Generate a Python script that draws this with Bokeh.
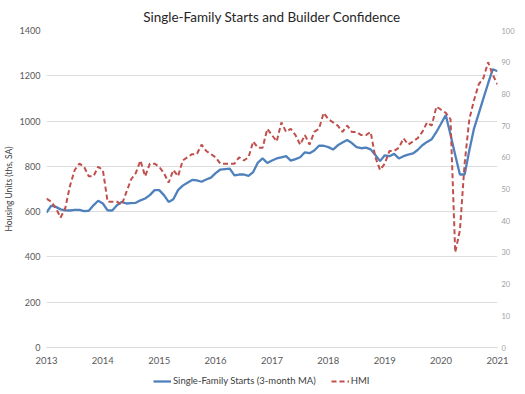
from bokeh.plotting import figure
from bokeh.models import Range1d, LinearAxis, FixedTicker, Legend, LegendItem, ColumnDataSource
from bokeh.layouts import column
from bokeh.embed import file_html
from bokeh.resources import INLINE

# Monthly, Jan 2013 .. Jan 2021
start_year = 2013
starts_3mma = [
    596, 626, 621, 610, 606, 605, 608, 608, 602, 604, 628, 648,   # 2013
    636, 606, 605, 628, 643, 636, 638, 639, 650, 658, 673, 695,   # 2014
    695, 673, 643, 655, 695, 715, 728, 740, 738, 732, 742, 750,   # 2015
    770, 786, 788, 790, 760, 764, 764, 758, 775, 817, 835, 815,   # 2016
    826, 835, 840, 845, 825, 832, 840, 862, 858, 870, 891, 891,   # 2017
    885, 874, 893, 905, 916, 903, 885, 880, 883, 875, 850, 823,   # 2018
    849, 845, 855, 835, 845, 852, 857, 872, 893, 908, 920, 952,   # 2019
    989, 1026, 940, 850, 764, 764, 870, 967, 1033, 1100, 1166, 1229,  # 2020
    1220,                                                         # 2021
]
hmi = [
    47, 46, 44, 41, 44, 51, 56, 58, 57, 54, 54, 57,   # 2013
    56, 46, 46, 46, 45, 49, 53, 55, 59, 54, 58, 58,   # 2014
    57, 55, 52, 56, 54, 59, 60, 61, 61, 64, 62, 61,   # 2015
    60, 58, 58, 58, 58, 60, 59, 60, 65, 63, 63, 69,   # 2016
    67, 65, 71, 68, 69, 67, 64, 67, 64, 68, 69, 74,   # 2017
    72, 71, 70, 68, 70, 68, 68, 67, 67, 68, 60, 56,   # 2018
    58, 62, 62, 63, 66, 64, 65, 66, 68, 71, 70, 76,   # 2019
    75, 74, 72, 30, 37, 58, 72, 78, 83, 85, 90, 86,   # 2020
    83,                                               # 2021
]
year_ticks = [2013, 2014, 2015, 2016, 2017, 2018, 2019, 2020, 2021]
left_ticks = [0, 200, 400, 600, 800, 1000, 1200, 1400]
right_ticks = [0, 10, 20, 30, 40, 50, 60, 70, 80, 90, 100]
series_labels = ["Single-Family Starts (3-month MA)", "HMI"]

x = [start_year + i / 12 for i in range(len(starts_3mma))]
src = ColumnDataSource(dict(x=x, starts=starts_3mma, hmi=hmi))

FONT = "Lato"
BLUE = "#4f81bd"
RED = "#c0504d"
W = 517


def bare_axis(ax):
    ax.axis_line_color = None
    ax.major_tick_line_color = None
    ax.minor_tick_line_color = None
    ax.major_tick_out = 0
    ax.major_tick_in = 0
    ax.minor_tick_out = 0
    ax.minor_tick_in = 0


p = figure(width=W, height=366, output_backend="svg", toolbar_location=None,
           x_range=Range1d(2013, 2021), y_range=Range1d(0, 1400),
           title="Single-Family Starts and Builder Confidence",
           min_border_left=40, min_border_right=0, min_border_top=24, min_border_bottom=0)
p.outline_line_color = None
p.background_fill_color = "white"
p.border_fill_color = "white"

p.title.align = "center"
p.title.text_font = FONT
p.title.text_font_size = "13.5px"
p.title.text_font_style = "normal"
p.title.text_color = "#262626"
p.title.standoff = 12

p.extra_y_ranges = {"hmi": Range1d(0, 100)}

# left axis
ya = p.yaxis[0]
ya.ticker = FixedTicker(ticks=left_ticks)
ya.axis_label = "Housing Units (ths, SA)"
ya.axis_label_text_font = FONT
ya.axis_label_text_font_size = "8.5px"
ya.axis_label_text_font_style = "normal"
ya.axis_label_text_color = "#404040"
ya.axis_label_standoff = 3
ya.major_label_text_font = FONT
ya.major_label_text_font_size = "9px"
ya.major_label_text_color = "#595959"
bare_axis(ya)
ya.major_label_standoff = 6

# right axis
ra = LinearAxis(y_range_name="hmi", ticker=FixedTicker(ticks=right_ticks))
ra.major_label_text_font = FONT
ra.major_label_text_font_size = "7.5px"
ra.major_label_text_color = "#a0a0a0"
bare_axis(ra)
ra.major_label_standoff = 4
p.add_layout(ra, "right")

# x axis
xa = p.xaxis[0]
xa.ticker = FixedTicker(ticks=year_ticks)
xa.major_label_text_font = FONT
xa.major_label_text_font_size = "9.5px"
xa.major_label_text_color = "#595959"
bare_axis(xa)
xa.axis_line_color = "#d9d9d9"
xa.major_label_standoff = 9

p.xgrid.grid_line_color = None
p.ygrid.grid_line_color = "#dedede"
p.ygrid.grid_line_width = 1

p.line("x", "starts", source=src, line_color=BLUE, line_width=2.3)
p.line("x", "hmi", source=src, y_range_name="hmi", line_color=RED,
       line_width=2, line_dash="5 3")

# legend strip below the chart (glyph sources lie outside its ranges, only legend swatches show)
lg = figure(width=W, height=22, output_backend="svg", toolbar_location=None,
            x_range=Range1d(0, 1), y_range=Range1d(0, 1),
            x_axis_location=None, y_axis_location=None,
            min_border_left=0, min_border_right=0, min_border_top=0, min_border_bottom=0)
lg.grid.visible = False
lg.outline_line_color = None
lg.background_fill_color = "white"
lg.border_fill_color = "white"
off = ColumnDataSource(dict(x=[-5, -4], y=[-5, -4]))
g1 = lg.line("x", "y", source=off, line_color=BLUE, line_width=2.3)
g2 = lg.line("x", "y", source=off, line_color=RED, line_width=2, line_dash="5 3")
legend = Legend(items=[LegendItem(label=series_labels[0], renderers=[g1]),
                       LegendItem(label=series_labels[1], renderers=[g2])],
                orientation="horizontal", location=(107, 2),
                border_line_color=None, background_fill_alpha=0,
                label_text_font=FONT, label_text_font_size="9.5px",
                label_text_color="#404040", glyph_width=18, glyph_height=10,
                label_height=10, spacing=15, padding=0, margin=0, label_standoff=2)
lg.add_layout(legend, "center")

open("out.html", "w").write(file_html(column(p, lg, spacing=0), INLINE))
